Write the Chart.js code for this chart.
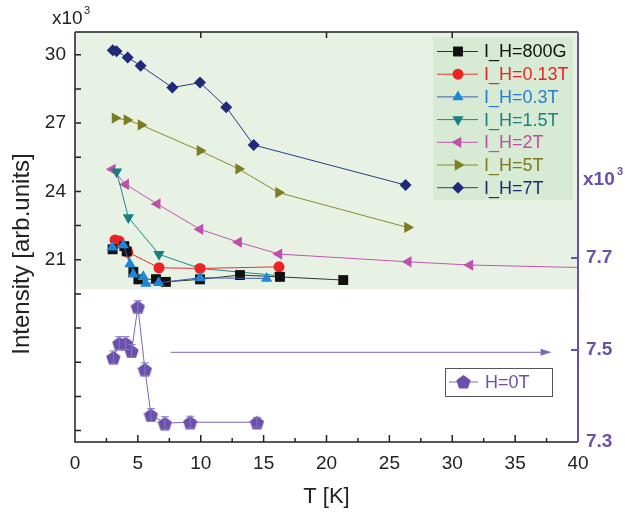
<!DOCTYPE html>
<html>
<head>
<meta charset="utf-8">
<script src="https://cdn.jsdelivr.net/npm/chart.js@4.4.1/dist/chart.umd.min.js"></script>
<style>
  body { margin: 0; background: #fff; }
</style>
</head>
<body>
<canvas id="Chart" width="625" height="516"></canvas>
<script>
// values, T in K, intensity in x10^3 arb.units
const labels = ['I_H=800G', 'I_H=0.13T', 'I_H=0.3T', 'I_H=1.5T', 'I_H=2T', 'I_H=5T', 'I_H=7T'];

const t800G = [2.99, 3.92, 4.11, 4.64, 5.04, 6.44, 7.23, 9.94, 13.12, 16.3, 21.33];
const i800G = [21.46, 21.6, 21.37, 20.47, 20.14, 20.15, 20.03, 20.14, 20.33, 20.25, 20.11];

const t013T = [3.18, 3.52, 4.19, 6.68, 9.94, 16.22];
const i013T = [21.87, 21.82, 21.34, 20.65, 20.62, 20.69];

const t03T = [2.97, 3.84, 4.37, 4.64, 5.43, 5.64, 6.65, 9.94, 15.24];
const i03T = [21.55, 21.65, 20.81, 20.37, 20.25, 19.96, 19.99, 20.21, 20.18];

const t15T = [3.31, 4.24, 6.68, 9.94, 16.24];
const i15T = [24.87, 22.86, 21.24, 20.62, 20.3];

const t2T = [2.97, 4.03, 6.54, 9.94, 13.01, 16.22, 26.5, 31.4, 45];
const i2T = [24.97, 24.31, 23.45, 22.34, 21.77, 21.25, 20.91, 20.77, 20.6];

const t5T = [3.18, 4.13, 5.25, 9.94, 13.01, 16.19, 26.44];
const i5T = [27.22, 27.14, 26.92, 25.79, 24.99, 23.95, 22.42];

const t7T = [3.0, 3.3, 4.19, 5.22, 7.74, 9.94, 12.03, 14.21, 26.29];
const i7T = [30.2, 30.15, 29.88, 29.52, 28.56, 28.78, 27.7, 26.04, 24.28];

// right axis series
const t0T = [3.05, 3.52, 4.03, 4.5, 5.0, 5.56, 6.04, 7.15, 9.16, 14.47];
const i0T = [7.484, 7.515, 7.515, 7.498, 7.594, 7.458, 7.359, 7.341, 7.343, 7.343];
const e0T = [0.014, 0.014, 0.014, 0.014, 0.013, 0.014, 0.014, 0.014, 0.013, 0.01];

const xTicks = [0, 5, 10, 15, 20, 25, 30, 35, 40];
const leftTicks = [21, 24, 27, 30];
const rightTicks = [7.3, 7.5, 7.7];

const purple = '#6a50aa';
const font = '"Liberation Sans", Arial, sans-serif';

function pts(xs, ys) {
  return xs.map((x, i) => ({x: x, y: ys[i]}));
}

function pentagon(size, color) {
  const c = document.createElement('canvas');
  c.width = size;
  c.height = size;
  const g = c.getContext('2d');
  g.fillStyle = color;
  g.beginPath();
  for (let k = 0; k < 5; k++) {
    const a = -Math.PI / 2 + k * 2 * Math.PI / 5;
    const px = size / 2 + size / 2 * Math.cos(a);
    const py = size / 2 + 1 + size / 2 * Math.sin(a);
    if (k === 0) g.moveTo(px, py); else g.lineTo(px, py);
  }
  g.closePath();
  g.fill();
  return c;
}

const penta = pentagon(15, purple);

function series(label, xs, ys, line, mark, style, rot, r, order) {
  return {
    label: label,
    data: pts(xs, ys),
    yAxisID: 'y',
    borderColor: line,
    borderWidth: 1,
    backgroundColor: mark,
    pointBackgroundColor: mark,
    pointBorderColor: mark,
    pointBorderWidth: 0,
    pointStyle: style,
    pointRotation: rot,
    pointRadius: r,
    tension: 0,
    order: order
  };
}

const datasets = [
  series(labels[2], t03T, i03T, '#3a5cb0', '#1e86d6', 'triangle', 0, 6.5, 0),
  series(labels[0], t800G, i800G, '#333333', '#111111', 'rect', 0, 7, 1),
  series(labels[1], t013T, i013T, '#ee3030', '#ee2222', 'circle', 0, 5.5, 2),
  series(labels[3], t15T, i15T, '#1f8a8a', '#1a7f80', 'triangle', 180, 6.5, 3),
  series(labels[4], t2T, i2T, '#c455b0', '#c050aa', 'triangle', -90, 6.5, 4),
  series(labels[5], t5T, i5T, '#8a8a2a', '#7e7c22', 'triangle', 90, 6.5, 5),
  series(labels[6], t7T, i7T, '#2a3a8a', '#1f2a78', 'rectRot', 0, 6, 6),
  {
    label: 'H=0T',
    data: pts(t0T, i0T),
    yAxisID: 'y2',
    borderColor: '#7c66b8',
    borderWidth: 1,
    pointStyle: penta,
    pointRadius: 7,
    tension: 0,
    order: 7
  }
];

// legend text colours, same order as labels
const legendColors = ['#111111', '#ee2222', '#2a7cd0', '#1a8080', '#c04ca8', '#7c7a22', '#1e2a78'];

const decor = {
  id: 'decor',
  beforeDatasetsDraw(chart) {
    const c = chart.ctx;
    const a = chart.chartArea;
    const y = chart.scales.y;
    const yg = y.getPixelForValue(19.7);
    c.save();
    c.fillStyle = '#e7f2e5';
    c.fillRect(a.left, a.top, a.right - a.left, yg - a.top);
    c.restore();
  },
  afterDatasetsDraw(chart) {
    const c = chart.ctx;
    const a = chart.chartArea;
    const x = chart.scales.x;
    const y = chart.scales.y;
    const y2 = chart.scales.y2;
    c.save();

    // error bars of H=0T
    c.strokeStyle = '#8a78c4';
    c.lineWidth = 1;
    t0T.forEach((t, i) => {
      const px = x.getPixelForValue(t);
      const lo = y2.getPixelForValue(i0T[i] - e0T[i]);
      const hi = y2.getPixelForValue(i0T[i] + e0T[i]);
      c.beginPath();
      c.moveTo(px, lo); c.lineTo(px, hi);
      c.moveTo(px - 4, lo); c.lineTo(px + 4, lo);
      c.moveTo(px - 4, hi); c.lineTo(px + 4, hi);
      c.stroke();
    });

    // arrow pointing at the right axis
    const ay = y2.getPixelForValue(7.495);
    const ax0 = x.getPixelForValue(7.6);
    const ax1 = x.getPixelForValue(37.9);
    c.strokeStyle = '#7c66b8';
    c.beginPath();
    c.moveTo(ax0, ay); c.lineTo(ax1 - 8, ay);
    c.stroke();
    c.fillStyle = '#7c66b8';
    c.beginPath();
    c.moveTo(ax1, ay); c.lineTo(ax1 - 11, ay - 3.5); c.lineTo(ax1 - 11, ay + 3.5);
    c.closePath();
    c.fill();

    // legend box
    c.fillStyle = '#d7ebd4';
    c.fillRect(433, 37, 140, 163);
    c.font = '18px ' + font;
    c.textBaseline = 'middle';
    labels.forEach((lab, k) => {
      const d = datasets.find(s => s.label === lab);
      const ly = 51.5 + k * 22.7;
      c.strokeStyle = d.borderColor;
      c.lineWidth = 1;
      c.beginPath();
      c.moveTo(437, ly); c.lineTo(478, ly);
      c.stroke();
      c.fillStyle = d.pointBackgroundColor;
      Chart.helpers.drawPoint(c, {pointStyle: d.pointStyle, rotation: d.pointRotation, radius: d.pointRadius, borderWidth: 0}, 458, ly);
      c.fillStyle = legendColors[k];
      c.fillText(lab, 484, ly + 1);
    });

    // H=0T legend box
    c.fillStyle = '#ffffff';
    c.fillRect(445, 368, 107, 28);
    c.strokeStyle = '#555555';
    c.lineWidth = 1;
    c.strokeRect(445.5, 368.5, 107, 28);
    c.strokeStyle = '#7c66b8';
    c.beginPath();
    c.moveTo(449, 382); c.lineTo(478, 382);
    c.stroke();
    c.drawImage(penta, 456, 374);
    c.fillStyle = purple;
    c.fillText('H=0T', 485, 383);

    // axes frame and inner tick marks
    c.strokeStyle = '#222222';
    c.lineWidth = 1.5;
    c.beginPath();
    c.moveTo(a.left, a.top); c.lineTo(a.left, a.bottom); c.lineTo(a.right, a.bottom);
    c.moveTo(a.left, a.top); c.lineTo(a.right, a.top);
    for (let v = 0; v <= 40; v += 2.5) {
      const px = x.getPixelForValue(v);
      c.moveTo(px, a.bottom); c.lineTo(px, a.bottom - (v % 5 === 0 ? 7 : 4));
    }
    for (let v = 10; v < 40; v += 10) {
      const px = x.getPixelForValue(v);
      c.moveTo(px, a.top); c.lineTo(px, a.top + 6);
    }
    for (let v = 13.5; v <= 30.1; v += 1.5) {
      const py = y.getPixelForValue(v);
      c.moveTo(a.left, py); c.lineTo(a.left + 6, py);
    }
    c.stroke();
    c.strokeStyle = purple;
    c.lineWidth = 2;
    c.beginPath();
    c.moveTo(a.right, a.top); c.lineTo(a.right, a.bottom);
    [7.5, 7.7].forEach(v => {
      const py = y2.getPixelForValue(v);
      c.moveTo(a.right, py); c.lineTo(a.right - 7, py);
    });
    c.stroke();

    // left axis title
    c.fillStyle = '#222222';
    c.save();
    c.translate(22, 254);
    c.rotate(-Math.PI / 2);
    c.textAlign = 'center';
    c.textBaseline = 'middle';
    c.font = '24px ' + font;
    c.fillText('Intensity [arb.units]', 0, 0);
    c.restore();

    // multipliers
    c.textBaseline = 'alphabetic';
    c.font = '19px ' + font;
    c.fillText('x10', 52, 24);
    c.font = '11px ' + font;
    c.fillText('3', 84, 14);
    c.fillStyle = purple;
    c.font = 'bold 19px ' + font;
    c.fillText('x10', 583, 185);
    c.font = 'bold 11px ' + font;
    c.fillText('3', 617, 175);
    c.restore();
  }
};

const ctx = document.getElementById('Chart').getContext('2d');
const myChart = new Chart(ctx, {
  type: 'line',
  data: { datasets: datasets },
  options: {
    responsive: false,
    animation: false,
    layout: { padding: { top: 32, left: 0, right: 0, bottom: 0 } },
    plugins: {
      legend: { display: false },
      tooltip: { enabled: false }
    },
    scales: {
      x: {
        type: 'linear',
        min: 0,
        max: 40,
        afterBuildTicks: s => { s.ticks = xTicks.map(v => ({value: v})); },
        afterFit: s => { s.height = 74; },
        grid: { display: false, drawTicks: false },
        border: { display: false },
        ticks: {
          padding: 10,
          color: '#222222',
          maxRotation: 0,
          font: { family: font, size: 19 }
        },
        title: {
          display: true,
          text: 'T [K]',
          color: '#222222',
          padding: { top: 0, bottom: 6 },
          font: { family: font, size: 22 }
        }
      },
      y: {
        type: 'linear',
        position: 'left',
        min: 13,
        max: 31,
        afterBuildTicks: s => { s.ticks = leftTicks.map(v => ({value: v})); },
        afterFit: s => { s.width = 75; },
        grid: { display: false, drawTicks: false },
        border: { display: false },
        ticks: {
          padding: 9,
          color: '#222222',
          font: { family: font, size: 19 }
        }
      },
      y2: {
        type: 'linear',
        position: 'right',
        min: 7.3,
        max: 8.1913,
        afterBuildTicks: s => { s.ticks = rightTicks.map(v => ({value: v})); },
        afterFit: s => { s.width = 47; },
        grid: { display: false, drawTicks: false },
        border: { display: false },
        ticks: {
          padding: 8,
          color: purple,
          callback: v => v.toFixed(1),
          font: { family: font, size: 19, weight: 'bold' }
        }
      }
    }
  },
  plugins: [decor]
});
</script>
</body>
</html>
